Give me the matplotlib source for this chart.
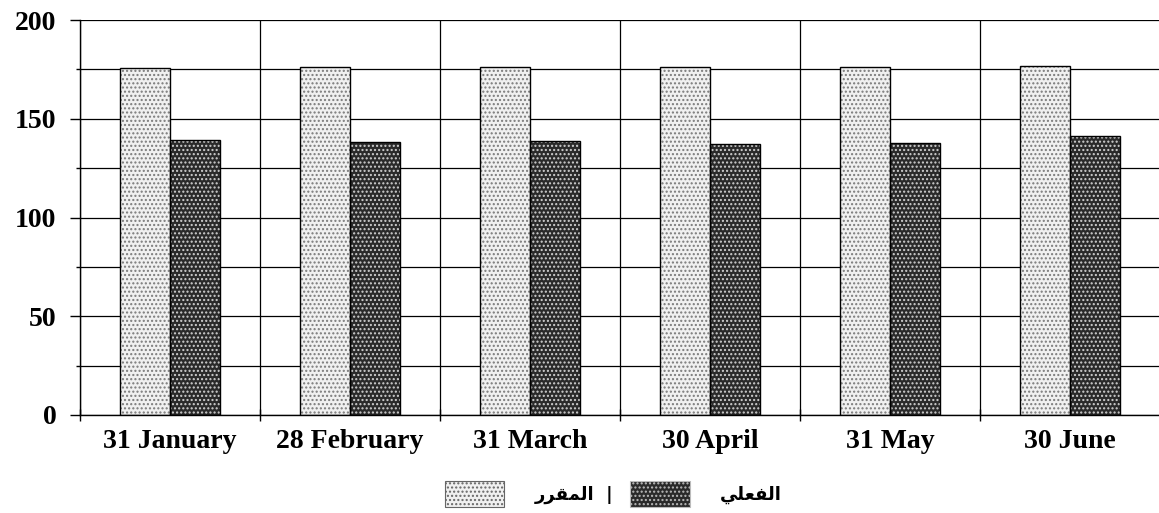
import numpy as np
import matplotlib
matplotlib.use('Agg')
import matplotlib.pyplot as plt
from matplotlib.patches import Patch
from matplotlib.ticker import MultipleLocator

months = ['31 January', '28 February', '31 March', '30 April', '31 May', '30 June']
budget = [175.9, 176.0, 176.2, 176.2, 176.4, 176.8]   # المقرر
actual = [139.3, 138.2, 138.6, 137.4, 137.6, 141.2]   # الفعلي
legend_labels = ['المقرر', 'الفعلي']

# matplotlib does no arabic shaping, so pick presentation forms by hand
FORMS = {
    'ا': ('\uFE8D', '\uFE8E', None, None),
    'ر': ('\uFEAD', '\uFEAE', None, None),
    'ل': ('\uFEDD', '\uFEDE', '\uFEDF', '\uFEE0'),
    'م': ('\uFEE1', '\uFEE2', '\uFEE3', '\uFEE4'),
    'ق': ('\uFED5', '\uFED6', '\uFED7', '\uFED8'),
    'ف': ('\uFED1', '\uFED2', '\uFED3', '\uFED4'),
    'ع': ('\uFEC9', '\uFECA', '\uFECB', '\uFECC'),
    'ي': ('\uFEF1', '\uFEF2', '\uFEF3', '\uFEF4'),
}

def shape(word):
    out = []
    for i, ch in enumerate(word):
        iso, fin, ini, med = FORMS[ch]
        prev_joins = i > 0 and FORMS[word[i-1]][2] is not None
        next_ok = ini is not None and i < len(word) - 1
        if prev_joins and next_ok:
            out.append(med)
        elif prev_joins:
            out.append(fin)
        elif next_ok:
            out.append(ini)
        else:
            out.append(iso)
    return ''.join(reversed(out))

x = np.arange(len(months))
w = 0.278

fig = plt.figure(figsize=(11.59, 5.13), dpi=100)
ax = fig.add_axes([80/1159, 98/513, 1080/1159, 395/513])

light_face, light_dot = '#f0f0f0', '#7a7a7a'
dark_face, dark_dot = '#2a2a2a', '#d0d0d0'

# base fill, hatch overlay, outline
ax.bar(x - w/2, budget, w, color=light_face, linewidth=0, zorder=2)
ax.bar(x - w/2, budget, w, fill=False, edgecolor=light_dot, hatch='....', linewidth=0, zorder=3)
ax.bar(x - w/2, budget, w, fill=False, edgecolor='black', linewidth=1.0, zorder=4)
ax.bar(x + w/2, actual, w, color=dark_face, linewidth=0, zorder=2)
ax.bar(x + w/2, actual, w, fill=False, edgecolor=dark_dot, hatch='....', linewidth=0, zorder=3)
ax.bar(x + w/2, actual, w, fill=False, edgecolor='black', linewidth=1.0, zorder=4)

ax.set_xlim(-0.5, 5.5)
ax.set_ylim(0, 200)

ax.yaxis.set_major_locator(MultipleLocator(50))
ax.yaxis.set_minor_locator(MultipleLocator(25))
ax.set_xticks(x)
ax.set_xticklabels(months)
ax.set_xticks(np.arange(-0.5, 5.6, 1.0), minor=True)

ax.grid(True, which='both', axis='y', color='black', linewidth=0.9, zorder=1)
ax.grid(True, which='minor', axis='x', color='black', linewidth=0.9, zorder=1)
ax.set_axisbelow(True)

for s in ['top', 'right']:
    ax.spines[s].set_visible(False)
ax.spines['left'].set_linewidth(1.0)
ax.spines['bottom'].set_linewidth(1.0)

ax.tick_params(axis='y', which='major', length=7, width=1, pad=10)
ax.tick_params(axis='y', which='minor', length=3, width=1)
ax.tick_params(axis='x', which='major', length=0, pad=10)
ax.tick_params(axis='x', which='minor', direction='inout', length=8, width=1)

for lab in ax.get_yticklabels():
    lab.set_fontfamily('Liberation Serif')
    lab.set_fontweight('bold')
    lab.set_fontsize(20)
for lab in ax.get_xticklabels():
    lab.set_fontfamily('Liberation Serif')
    lab.set_fontweight('bold')
    lab.set_fontsize(20)

handles = [Patch(facecolor=light_face, edgecolor='#666666', hatch='....', linewidth=0.8),
           Patch(facecolor=dark_face, edgecolor='#bbbbbb', hatch='....', linewidth=0.8)]
leg = ax.legend(handles, [shape(legend_labels[0]) + '  |', shape(legend_labels[1])],
                loc='center', bbox_to_anchor=(0.494, -0.2), ncol=2, frameon=False,
                handlelength=3.3, handleheight=1.8, handletextpad=1.7, columnspacing=0.9,
                prop={'family': ['DejaVu Sans'], 'weight': 'bold', 'size': 13})

fig.savefig('out.png', dpi=100)
